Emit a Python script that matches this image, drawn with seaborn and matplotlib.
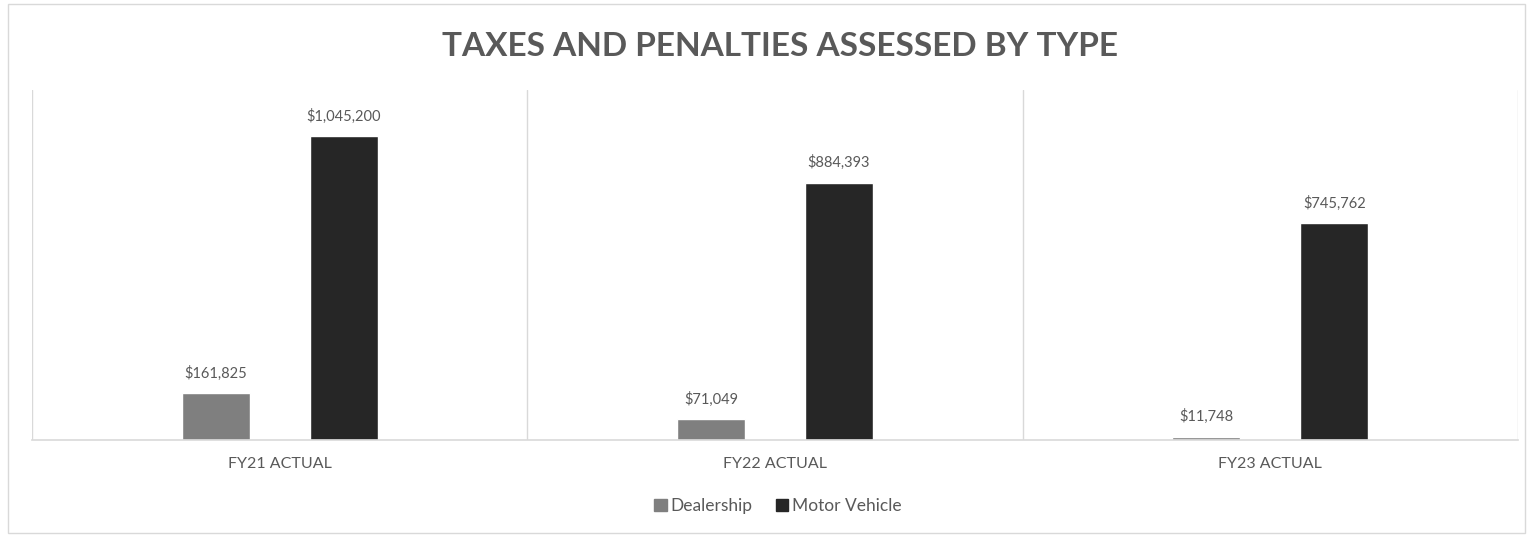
import matplotlib
matplotlib.use("Agg")
import matplotlib.pyplot as plt
import seaborn as sns
import pandas as pd
from matplotlib.patches import Rectangle

categories = ["FY21 ACTUAL", "FY22 ACTUAL", "FY23 ACTUAL"]
series_names = ["Dealership", "Motor Vehicle"]
dealership = [161825, 71049, 11748]
motor_vehicle = [1045200, 884393, 745762]
title = "TAXES AND PENALTIES ASSESSED BY TYPE"

colors = ["#7f7f7f", "#262626"]
text_gray = "#595959"
line_gray = "#d9d9d9"

sns.set_theme(style="white")
plt.rcParams['font.family'] = ['Lato', 'DejaVu Sans']

df = pd.DataFrame({
    "category": categories * 2,
    "series": [series_names[0]] * 3 + [series_names[1]] * 3,
    "value": dealership + motor_vehicle,
})

fig = plt.figure(figsize=(15.33, 5.39), dpi=100)
ax = fig.add_axes([32 / 1533, 1 - 440 / 539, (1518 - 32) / 1533, (440 - 90) / 539])

sns.barplot(data=df, x="category", y="value", hue="series", hue_order=series_names,
            order=categories, palette=colors, width=0.517, gap=0.47, ax=ax,
            saturation=1, legend=False)

ax.set_ylim(0, 1203000)
ax.set_xlim(-0.5, 2.5)
ax.set_yticks([])
ax.set_xlabel("")
ax.set_ylabel("")
for s in ["top", "right", "left"]:
    ax.spines[s].set_visible(False)
ax.spines["bottom"].set_color(line_gray)
ax.spines["bottom"].set_linewidth(1.2)
for xb in [-0.5, 0.5, 1.5, 2.5]:
    ax.axvline(xb, color=line_gray, lw=1.0, zorder=0)

ax.tick_params(axis="x", length=0, pad=12, labelsize=11.5, labelcolor=text_gray)

for cont in ax.containers:
    ax.bar_label(cont, labels=[f"${v:,.0f}" for v in cont.datavalues],
                 padding=9, fontsize=10.5, color=text_gray)

fig.text(0.509, 1 - 47 / 539, title, ha="center", va="center",
         fontsize=24, fontweight="bold", color=text_gray)

handles = [Rectangle((0, 0), 1, 1, color=c) for c in colors]
fig.legend(handles, series_names, loc="center", bbox_to_anchor=(778 / 1533, 1 - 506 / 539),
           ncol=2, frameon=False, fontsize=12.5, labelcolor=text_gray,
           handlelength=0.7, handleheight=0.7, handletextpad=0.2, columnspacing=1.4)

fig.patches.append(Rectangle((8 / 1533, 1 - 533 / 539), (1525 - 8) / 1533, (533 - 4) / 539,
                             transform=fig.transFigure, fill=False,
                             edgecolor=line_gray, lw=1.0))

fig.savefig("out.png", dpi=100)
